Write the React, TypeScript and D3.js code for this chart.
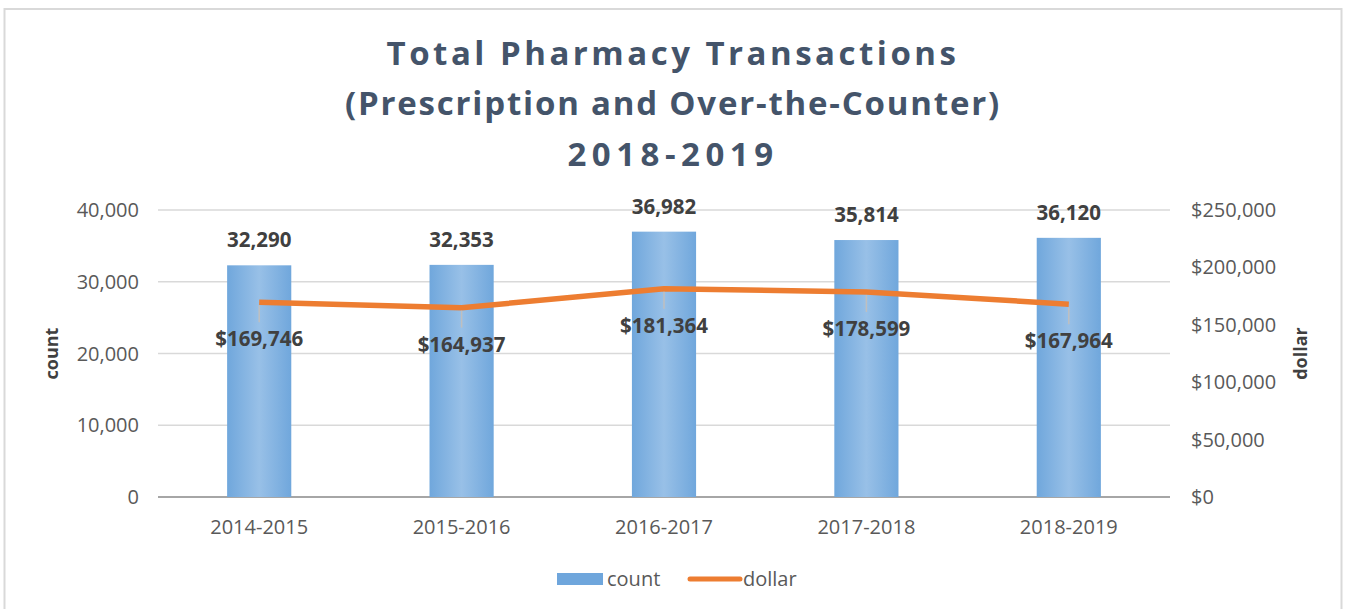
import React from "react";
import * as d3 from "d3";

const years = ["2014-2015", "2015-2016", "2016-2017", "2017-2018", "2018-2019"];
const counts = [32290, 32353, 36982, 35814, 36120];
const dollars = [169746, 164937, 181364, 178599, 167964];
const countTicks = [0, 10000, 20000, 30000, 40000];
const dollarTicks = [0, 50000, 100000, 150000, 200000, 250000];
const titleLines = [
  "Total Pharmacy Transactions",
  "(Prescription and Over-the-Counter)",
  "2018-2019",
];
// letter spacing per title line, to get the widths of the original font
const titleSpacing = [3.5, 1.8, 5.5];

const W = 1348;
const H = 609;
const plot = { left: 158, right: 1170, top: 210, bottom: 497 };
const font = "'Open Sans', sans-serif";
const grey = "#595959";

const App = () => {
  const x = d3.scaleBand().domain(years).range([plot.left, plot.right]).paddingInner(0.683).paddingOuter(0.3415);
  const yCount = d3.scaleLinear().domain([0, 40000]).range([plot.bottom, plot.top]);
  const yDollar = d3.scaleLinear().domain([0, 250000]).range([plot.bottom, plot.top]);
  const fmt = d3.format(",");
  const cx = (d: string) => (x(d) ?? 0) + x.bandwidth() / 2;

  const line = d3
    .line<number>()
    .x((d, i) => cx(years[i]))
    .y((d) => yDollar(d));

  return (
    <div style={{ position: "absolute", left: 0, top: 0 }}>
      <svg width={W} height={H} style={{ display: "block", fontFamily: font }}>
        <defs>
          <linearGradient id="barGrad" x1="0" x2="1" y1="0" y2="0">
            <stop offset="0" stopColor="#70A7DC" />
            <stop offset="0.5" stopColor="#98C0E7" />
            <stop offset="1" stopColor="#70A7DC" />
          </linearGradient>
        </defs>
        <rect x={0} y={0} width={W} height={H} fill="#fff" />
        <rect x={4.5} y={9} width={1337} height={620} fill="#fff" stroke="#D9D9D9" strokeWidth={2} />

        {titleLines.map((t, i) => (
          <text
            key={t}
            x={673}
            y={53 + i * 50.5}
            dy="0.35em"
            textAnchor="middle"
            fontSize={33}
            fontWeight="bold"
            letterSpacing={titleSpacing[i]}
            fill="#44546A"
          >
            {t}
          </text>
        ))}

        {/* grid */}
        {countTicks.map((t) => (
          <line
            key={t}
            x1={plot.left}
            x2={plot.right}
            y1={yCount(t)}
            y2={yCount(t)}
            stroke={t === 0 ? "#A6A6A6" : "#D9D9D9"}
            strokeWidth={t === 0 ? 2 : 1.5}
          />
        ))}

        {/* left axis */}
        {countTicks.map((t) => (
          <text key={t} x={139} y={yCount(t)} dy="0.35em" textAnchor="end" fontSize={20} fill={grey}>
            {fmt(t)}
          </text>
        ))}
        {/* right axis */}
        {dollarTicks.map((t) => (
          <text key={t} x={1191} y={yDollar(t)} dy="0.35em" textAnchor="start" fontSize={20} fill={grey}>
            {"$" + fmt(t)}
          </text>
        ))}
        <text
          transform={`translate(52,${(plot.top + plot.bottom) / 2}) rotate(-90)`}
          dy="0.35em"
          textAnchor="middle"
          fontSize={18}
          fontWeight="bold"
          fill="#404040"
        >
          count
        </text>
        <text
          transform={`translate(1301,${(plot.top + plot.bottom) / 2}) rotate(-90)`}
          dy="0.35em"
          textAnchor="middle"
          fontSize={18}
          fontWeight="bold"
          fill="#404040"
        >
          dollar
        </text>

        {/* bars */}
        {years.map((yr, i) => (
          <g key={yr}>
            <rect
              x={x(yr)}
              y={yCount(counts[i])}
              width={x.bandwidth()}
              height={plot.bottom - yCount(counts[i])}
              fill="url(#barGrad)"
            />
            <text x={cx(yr)} y={yCount(counts[i]) - 25} dy="0.35em" textAnchor="middle" fontSize={20.5} fontWeight="bold" fill="#404040">
              {fmt(counts[i])}
            </text>
            <text x={cx(yr)} y={plot.bottom + 30} dy="0.35em" textAnchor="middle" fontSize={20} fill={grey}>
              {yr}
            </text>
          </g>
        ))}

        {/* dollar line */}
        <path d={line(dollars) ?? ""} fill="none" stroke="#ED7D31" strokeWidth={5.5} strokeLinejoin="round" />
        {years.map((yr, i) => (
          <g key={yr}>
            <line x1={cx(yr)} x2={cx(yr)} y1={yDollar(dollars[i]) + 3} y2={yDollar(dollars[i]) + 20} stroke="#BFBFBF" strokeWidth={1.5} />
            <text x={cx(yr)} y={yDollar(dollars[i]) + 37} dy="0.35em" textAnchor="middle" fontSize={20.5} fontWeight="bold" fill="#404040">
              {"$" + fmt(dollars[i])}
            </text>
          </g>
        ))}

        {/* legend */}
        <rect x={557} y={573} width={46} height={12} fill="#6FA6DC" />
        <text x={607} y={579} dy="0.35em" fontSize={20} fill={grey}>count</text>
        <line x1={690} x2={740} y1={579} y2={579} stroke="#ED7D31" strokeWidth={5} strokeLinecap="round" />
        <text x={743} y={579} dy="0.35em" fontSize={20} fill={grey}>dollar</text>
      </svg>
    </div>
  );
};

export default App;
